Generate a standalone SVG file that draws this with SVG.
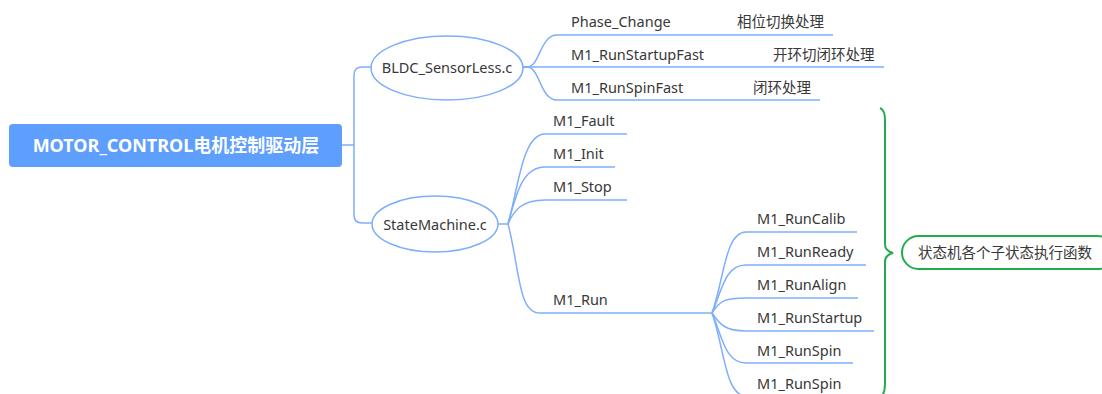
<svg xmlns="http://www.w3.org/2000/svg" width="1102" height="394" viewBox="0 0 1102 394">
  <style>
    .lbl { font-family: "Noto Sans", "Noto Sans CJK SC", sans-serif; font-size: 14.5px; fill: #383838; }
    .root-text { font-family: "Noto Sans", "Noto Sans CJK SC", sans-serif; font-size: 18px; font-weight: bold; fill: #ffffff; }
    .link { fill: none; stroke: #7eaefc; stroke-width: 1.5; }
    .bubble { fill: #ffffff; stroke: #7eaefc; stroke-width: 1.5; }
    .note { fill: none; stroke: #22ac4f; stroke-width: 2; }
  </style>

  <!-- connectors -->
  <g id="connectors">
    <!-- root to files -->
    <path class="link" d="M342,145 H354"/>
    <path class="link" d="M372,67 H362 Q354,67 354,75 V215 Q354,223 362,223 H372"/>
    <!-- BLDC_SensorLess.c children -->
    <path class="link" d="M523,67 H527 C540,67 540,35 557,35 H833"/>
    <path class="link" d="M523,67 H884"/>
    <path class="link" d="M523,67 H527 C540,67 540,100 557,100 H820"/>
    <!-- StateMachine.c children -->
    <path class="link" d="M497,224 H508"/>
    <path class="link" d="M508,224 C518,190 522,134 545,134 H627"/>
    <path class="link" d="M508,224 C516,195 522,167 545,167 H615"/>
    <path class="link" d="M508,224 C514,210 522,200 545,200 H627"/>
    <path class="link" d="M508,224 C520,270 518,313 540,313 H712"/>
    <!-- M1_Run children -->
    <path class="link" d="M712,313 C724,280 725,232 746,232 H857"/>
    <path class="link" d="M712,313 C722,290 725,265 746,265 H866"/>
    <path class="link" d="M712,313 C720,300 726,298 746,298 H858"/>
    <path class="link" d="M712,313 C720,325 726,331 746,331 H874"/>
    <path class="link" d="M712,313 C722,336 725,363 746,363 H853"/>
    <path class="link" d="M712,313 C724,346 725,396 746,396 H853"/>
    <!-- summary brace -->
    <path class="note" d="M880,108 Q885,110 885,120 V244 Q885,251 893,253 Q885,255 885,262 V384 Q885,392 882,396"/>
  </g>

  <!-- root -->
  <g id="root">
    <rect x="9" y="124" width="333" height="43" rx="4" fill="#5e9efc"/>
    <text class="root-text" x="176" y="152" text-anchor="middle">MOTOR_CONTROL电机控制驱动层</text>
  </g>

  <!-- source files -->
  <g id="bldc-sensorless">
    <ellipse class="bubble" cx="447" cy="68" rx="76" ry="32"/>
    <text class="lbl" x="447" y="73" text-anchor="middle">BLDC_SensorLess.c</text>
  </g>
  <g id="state-machine">
    <ellipse class="bubble" cx="435" cy="224" rx="63" ry="28"/>
    <text class="lbl" x="435" y="230" text-anchor="middle">StateMachine.c</text>
  </g>

  <!-- BLDC_SensorLess.c functions -->
  <g id="phase-change">
    <text class="lbl" x="571" y="27">Phase_Change</text>
    <text class="lbl" x="737" y="27">相位切换处理</text>
  </g>
  <g id="run-startup-fast">
    <text class="lbl" x="571" y="60">M1_RunStartupFast</text>
    <text class="lbl" x="773" y="60">开环切闭环处理</text>
  </g>
  <g id="run-spin-fast">
    <text class="lbl" x="571" y="93">M1_RunSpinFast</text>
    <text class="lbl" x="753" y="93">闭环处理</text>
  </g>

  <!-- StateMachine.c functions -->
  <g id="m1-fault"><text class="lbl" x="553" y="126">M1_Fault</text></g>
  <g id="m1-init"><text class="lbl" x="553" y="159">M1_Init</text></g>
  <g id="m1-stop"><text class="lbl" x="553" y="192">M1_Stop</text></g>
  <g id="m1-run"><text class="lbl" x="553" y="305">M1_Run</text></g>

  <!-- M1_Run sub-states -->
  <g id="m1-runcalib"><text class="lbl" x="757" y="224">M1_RunCalib</text></g>
  <g id="m1-runready"><text class="lbl" x="757" y="257">M1_RunReady</text></g>
  <g id="m1-runalign"><text class="lbl" x="757" y="290">M1_RunAlign</text></g>
  <g id="m1-runstartup"><text class="lbl" x="757" y="323">M1_RunStartup</text></g>
  <g id="m1-runspin"><text class="lbl" x="757" y="356">M1_RunSpin</text></g>
  <g id="m1-runspin-2"><text class="lbl" x="757" y="389">M1_RunSpin</text></g>

  <!-- summary -->
  <g id="summary">
    <rect class="note" x="902" y="236" width="212" height="33" rx="16.5" fill="#ffffff"/>
    <text class="lbl" x="918" y="258">状态机各个子状态执行函数</text>
  </g>
</svg>
